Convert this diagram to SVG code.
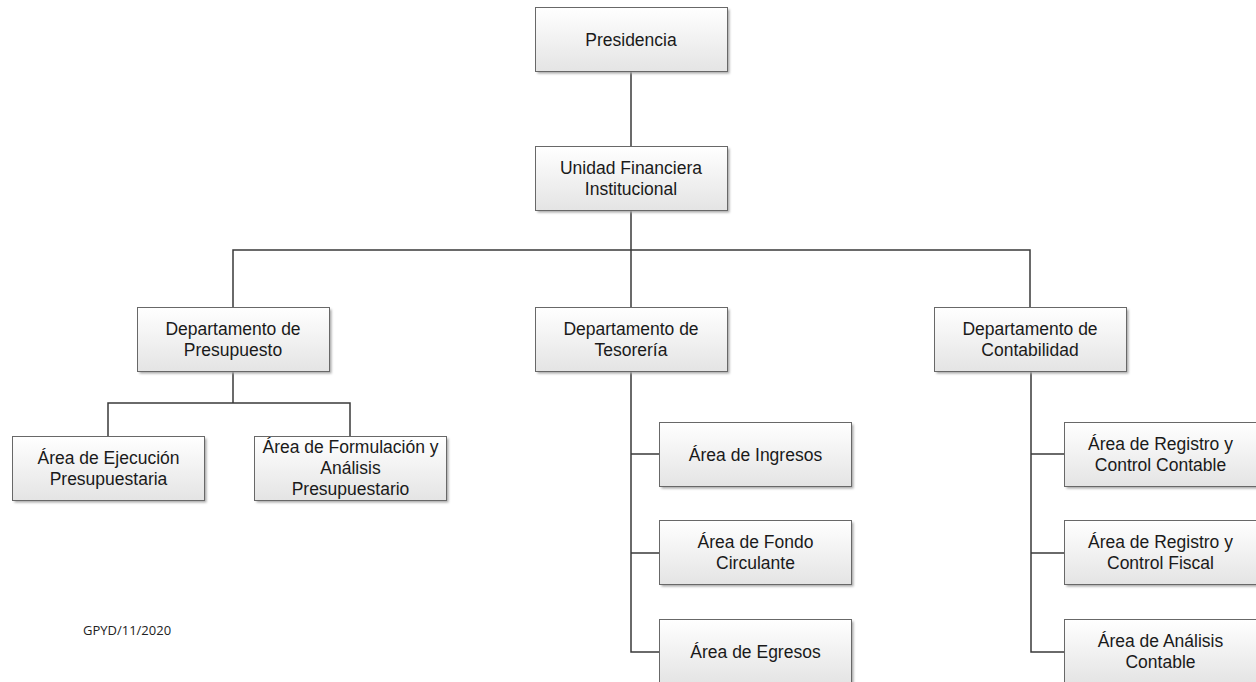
<svg xmlns="http://www.w3.org/2000/svg" width="1256" height="682" viewBox="0 0 1256 682">
  <defs>
    <linearGradient id="boxFill" x1="0" y1="0" x2="0" y2="1">
      <stop offset="0" stop-color="#ffffff"/>
      <stop offset="1" stop-color="#e4e4e4"/>
    </linearGradient>
    <filter id="soft" x="-5%" y="-10%" width="110%" height="120%">
      <feGaussianBlur stdDeviation="0.8"/>
    </filter>
    <style>
      .shadow { fill: #a8a8a8; filter: url(#soft); }
      .box { fill: url(#boxFill); stroke: #686868; stroke-width: 1; }
      .lbl { font-family: "Liberation Sans", Arial, sans-serif; font-size: 17.5px; fill: #1a1a1a; text-anchor: middle; }
      .conn { fill: none; stroke: #3a3a3a; stroke-width: 1.5; }
      .note { font-family: "Open Sans", "Liberation Sans", sans-serif; font-size: 13px; fill: #222; }
    </style>
  </defs>
  <rect width="1256" height="682" fill="#ffffff"/>

  <g id="connectors">
    <path class="conn" d="M631 72 V146"/>
    <path class="conn" d="M631 211 V307"/>
    <path class="conn" d="M233 307 V250 H1030 V307"/>
    <path class="conn" d="M233 372 V403"/>
    <path class="conn" d="M108 436 V403 H350 V436"/>
    <path class="conn" d="M631 372 V652 H659 M631 454 H659 M631 553 H659"/>
    <path class="conn" d="M1031 372 V652 H1064 M1031 454 H1064 M1031 553 H1064"/>
  </g>

  <g id="presidencia">
    <rect class="shadow" x="537.5" y="9.5" width="192" height="64"/>
    <rect class="box" x="535.5" y="7.5" width="192" height="64"/>
    <text class="lbl" x="631" y="45.5">Presidencia</text>
  </g>

  <g id="unidad-financiera">
    <rect class="shadow" x="537.5" y="148.5" width="192" height="64"/>
    <rect class="box" x="535.5" y="146.5" width="192" height="64"/>
    <text class="lbl" x="631" y="174">Unidad Financiera</text>
    <text class="lbl" x="631" y="195">Institucional</text>
  </g>

  <g id="dep-presupuesto">
    <rect class="shadow" x="139.5" y="309.5" width="192" height="64"/>
    <rect class="box" x="137.5" y="307.5" width="192" height="64"/>
    <text class="lbl" x="233" y="335">Departamento de</text>
    <text class="lbl" x="233" y="356">Presupuesto</text>
  </g>

  <g id="dep-tesoreria">
    <rect class="shadow" x="537.5" y="309.5" width="192" height="64"/>
    <rect class="box" x="535.5" y="307.5" width="192" height="64"/>
    <text class="lbl" x="631" y="335">Departamento de</text>
    <text class="lbl" x="631" y="356">Tesorería</text>
  </g>

  <g id="dep-contabilidad">
    <rect class="shadow" x="936.5" y="309.5" width="192" height="64"/>
    <rect class="box" x="934.5" y="307.5" width="192" height="64"/>
    <text class="lbl" x="1030" y="335">Departamento de</text>
    <text class="lbl" x="1030" y="356">Contabilidad</text>
  </g>

  <g id="area-ejecucion">
    <rect class="shadow" x="14.5" y="438.5" width="192" height="64"/>
    <rect class="box" x="12.5" y="436.5" width="192" height="64"/>
    <text class="lbl" x="108.5" y="464">Área de Ejecución</text>
    <text class="lbl" x="108.5" y="485">Presupuestaria</text>
  </g>

  <g id="area-formulacion">
    <rect class="shadow" x="256.5" y="438.5" width="192" height="64"/>
    <rect class="box" x="254.5" y="436.5" width="192" height="64"/>
    <text class="lbl" x="350.5" y="453">Área de Formulación y</text>
    <text class="lbl" x="350.5" y="474">Análisis</text>
    <text class="lbl" x="350.5" y="495">Presupuestario</text>
  </g>

  <g id="area-ingresos">
    <rect class="shadow" x="661.5" y="424.5" width="192" height="64"/>
    <rect class="box" x="659.5" y="422.5" width="192" height="64"/>
    <text class="lbl" x="755.5" y="460.5">Área de Ingresos</text>
  </g>

  <g id="area-fondo">
    <rect class="shadow" x="661.5" y="522.5" width="192" height="64"/>
    <rect class="box" x="659.5" y="520.5" width="192" height="64"/>
    <text class="lbl" x="755.5" y="548">Área de Fondo</text>
    <text class="lbl" x="755.5" y="569">Circulante</text>
  </g>

  <g id="area-egresos">
    <rect class="shadow" x="661.5" y="621.5" width="192" height="64"/>
    <rect class="box" x="659.5" y="619.5" width="192" height="64"/>
    <text class="lbl" x="755.5" y="657.5">Área de Egresos</text>
  </g>

  <g id="area-registro-contable">
    <rect class="shadow" x="1066.5" y="424.5" width="192" height="64"/>
    <rect class="box" x="1064.5" y="422.5" width="192" height="64"/>
    <text class="lbl" x="1160.5" y="450">Área de Registro y</text>
    <text class="lbl" x="1160.5" y="471">Control Contable</text>
  </g>

  <g id="area-registro-fiscal">
    <rect class="shadow" x="1066.5" y="522.5" width="192" height="64"/>
    <rect class="box" x="1064.5" y="520.5" width="192" height="64"/>
    <text class="lbl" x="1160.5" y="548">Área de Registro y</text>
    <text class="lbl" x="1160.5" y="569">Control Fiscal</text>
  </g>

  <g id="area-analisis">
    <rect class="shadow" x="1066.5" y="621.5" width="192" height="64"/>
    <rect class="box" x="1064.5" y="619.5" width="192" height="64"/>
    <text class="lbl" x="1160.5" y="647">Área de Análisis</text>
    <text class="lbl" x="1160.5" y="668">Contable</text>
  </g>

  <text class="note" x="83" y="635">GPYD/11/2020</text>
</svg>
